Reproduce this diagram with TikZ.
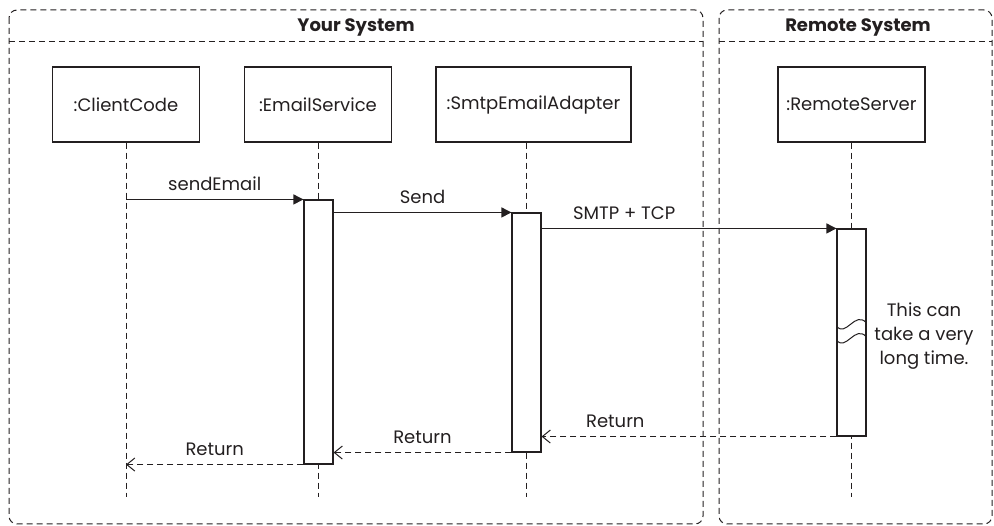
\documentclass[tikz,border=0pt]{standalone}
\usepackage{fontspec}
\setmainfont{Poppins}
\usetikzlibrary{arrows.meta, positioning, calc}
\definecolor{inkgray}{RGB}{35, 31, 32}
\tikzset{
  every node/.style={font=\fontsize{18pt}{24pt}\selectfont, text=inkgray},
  head/.style={draw=inkgray, line width=1.1pt, minimum width=147pt, minimum height=75pt, inner sep=0pt},
  actbar/.style={draw=inkgray, fill=white, line width=1.1pt, minimum width=29pt, inner sep=0pt},
  lifeln/.style={draw=inkgray, line width=1pt, dash pattern=on 6pt off 4pt},
  call/.style={draw=inkgray, line width=1.1pt, -{Triangle[length=10pt, width=10pt]}},
  reply/.style={draw=inkgray, line width=1pt, dash pattern=on 6pt off 4pt, -{Straight Barb[length=8pt, width=13pt]}},
  lbl/.style={above=8pt, inner sep=0pt},
  sysframe/.style={draw=inkgray, line width=1pt, dash pattern=on 6pt off 4pt, rounded corners=8pt},
  systitle/.style={font=\fontsize{18pt}{20pt}\selectfont\bfseries, anchor=base, inner sep=0pt},
}

\begin{document}
\begin{tikzpicture}[x=1pt, y=-1pt]
  \useasboundingbox (0,0) rectangle (994,526);

  % the two systems
  \draw[sysframe] (9,10) rectangle (703,524);
  \draw[lifeln] (9,42) -- (703,42);
  \node[systitle] (yoursys) at (356,32) {Your System};
  \draw[sysframe] (719,10) rectangle (992,524);
  \draw[lifeln] (719,42) -- (992,42);
  \node[systitle] (remotesys) at (858,32) {Remote System};

  % participants
  \node[head] (client) at (126,104.5) {:ClientCode};
  \node[head] (email) at (318,104.5) {:EmailService};
  \node[head, minimum width=195pt] (adapter) at (533.5,104.5) {:SmtpEmailAdapter};
  \node[head] (remote) at (851.5,104.5) {:RemoteServer};

  \coordinate (lend) at (0,497);
  \node[actbar, minimum height=264pt] (esbar) at (318.5,332) {};
  \node[actbar, minimum height=239pt] (adbar) at (526.5,332.5) {};
  \node[actbar, minimum height=207pt] (rsbar) at (851.5,332.5) {};

  \draw[lifeln] (client) -- (client |- lend);
  \draw[lifeln] (esbar |- email.south) -- (esbar |- lend);
  \draw[lifeln] (adbar |- adapter.south) -- (adbar |- lend);
  \draw[lifeln] (rsbar |- remote.south) -- (rsbar |- lend);

  \node[actbar, minimum height=264pt] at (esbar) {};
  \node[actbar, minimum height=239pt] at (adbar) {};
  \node[actbar, minimum height=207pt] at (rsbar) {};

  % break in the remote activation
  \draw[inkgray, line width=1pt] (rsbar.west |- 0,326) .. controls (846,338) and (855,310) .. (rsbar.east |- 0,323);
  \draw[inkgray, line width=1pt] (rsbar.west |- 0,340) .. controls (846,352) and (855,324) .. (rsbar.east |- 0,337);
  \node[align=center, inner sep=0pt] (note) at (924,336) {This can\\take a very\\long time.};

  % messages
  \draw[call] (esbar.north west -| client) -- node[lbl] {sendEmail} (esbar.north west);
  \draw[call] (adbar.north west -| esbar.east) -- node[lbl] {Send} (adbar.north west);
  \draw[call] (rsbar.north west -| adbar.east) -- node[lbl, pos=0.28] {SMTP + TCP} (rsbar.north west);
  \draw[reply] (rsbar.south west) -- node[lbl, pos=0.75] {Return} (rsbar.south west -| adbar.east);
  \draw[reply] (adbar.south west) -- node[lbl] {Return} (adbar.south west -| esbar.east);
  \draw[reply] (esbar.south west) -- node[lbl] {Return} (esbar.south west -| client);
\end{tikzpicture}
\end{document}
